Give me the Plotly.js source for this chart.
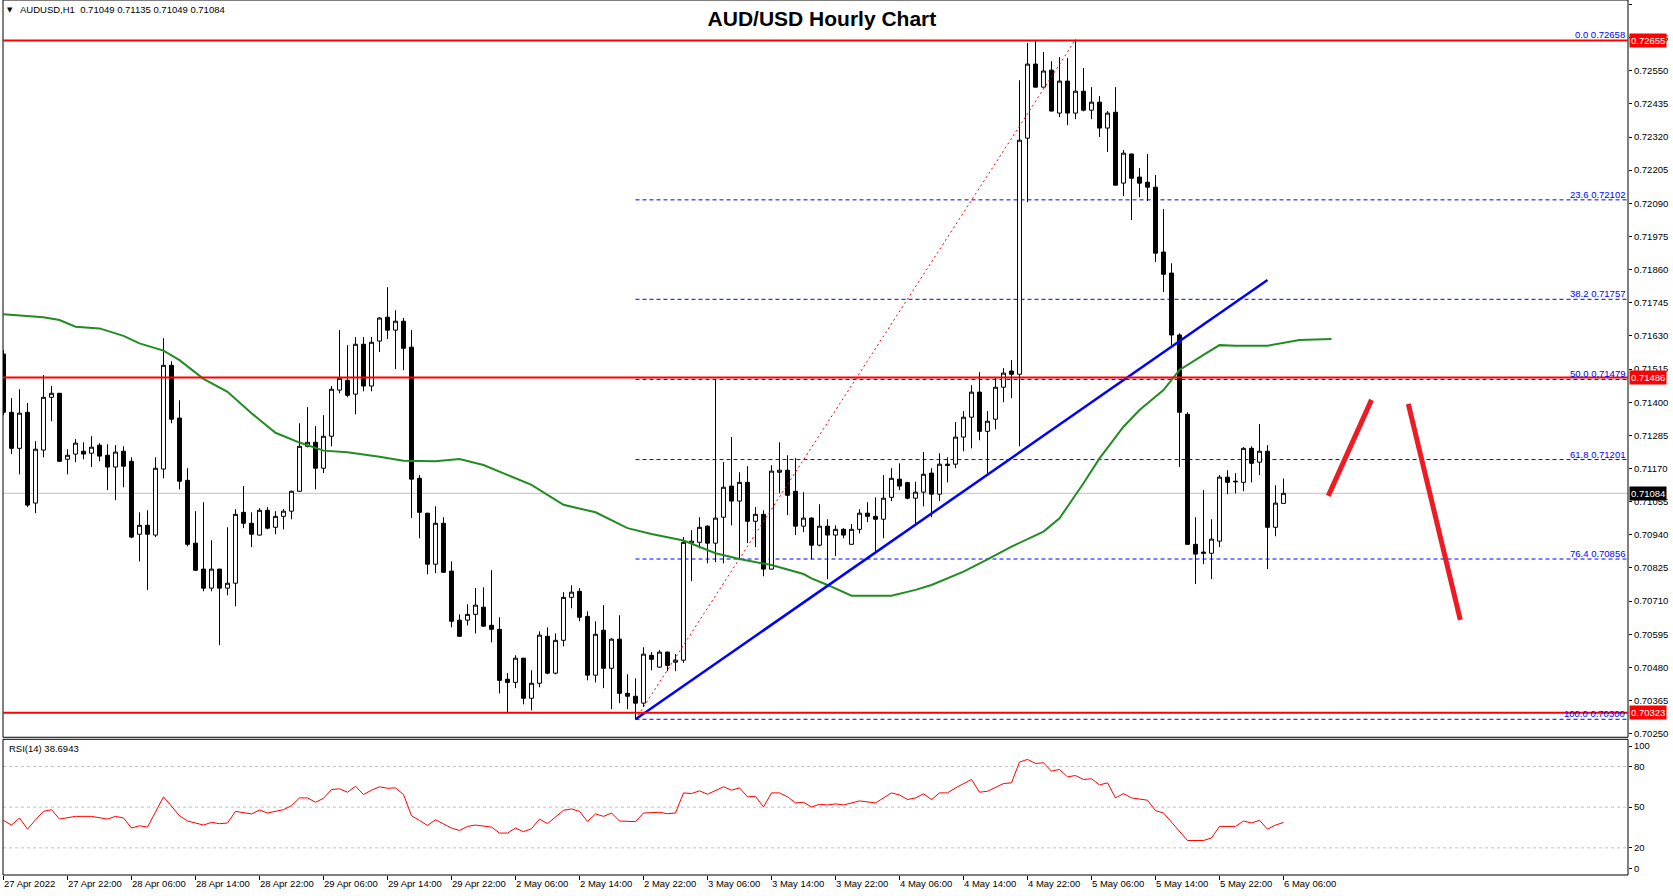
<!DOCTYPE html>
<html>
<head>
<meta charset="utf-8">
<script src="https://cdn.plot.ly/plotly-3.0.1.min.js"></script>
<style>html,body{margin:0;padding:0;background:#fff;}#chart{width:1673px;height:896px;}</style>
</head>
<body>
<div id="chart"></div>
<script>
// ---- Candles (hourly, 27 Apr 14:00 .. 6 May 06:00) ----
const opens = [0.71567,0.71365,0.71240,0.71365,0.71050,0.71234,0.71417,0.71431,0.71202,0.71220,
0.71230,0.71223,0.71251,0.71216,0.71175,0.71230,0.71195,0.70942,0.70973,0.70939,
0.71168,0.71528,0.71345,0.71129,0.70911,0.70821,0.70755,0.70821,0.70755,0.70772,
0.71018,0.70980,0.70939,0.71025,0.70966,0.71004,0.71022,0.71091,0.71247,0.71261,
0.71171,0.71282,0.71442,0.71476,0.71428,0.71601,0.71456,0.71612,0.71695,0.71650,
0.71681,0.71591,0.71136,0.71015,0.70838,0.70980,0.70814,0.70644,0.70644,0.70664,
0.70689,0.70626,0.70612,0.70439,0.70428,0.70512,0.70373,0.70425,0.70588,0.70460,
0.70574,0.70723,0.70744,0.70657,0.70453,0.70609,0.70477,0.70578,0.70390,0.70380,
0.70356,0.70522,0.70481,0.70533,0.70498,0.70505,0.70911,0.70914,0.70970,0.70911,
0.71001,0.71109,0.71057,0.71122,0.70987,0.71011,0.70821,0.71157,0.71164,0.71091,
0.70970,0.70998,0.70904,0.70970,0.70939,0.70959,0.70907,0.70959,0.71015,0.71004,
0.70994,0.71070,0.71133,0.71121,0.71067,0.71088,0.71154,0.71081,0.71185,0.71185,
0.71279,0.71348,0.71435,0.71299,0.71341,0.71452,0.71508,0.71497,0.72316,0.72573,
0.72493,0.72552,0.72403,0.72514,0.72403,0.72479,0.72413,0.72441,0.72351,0.72406,
0.72160,0.72261,0.72181,0.72163,0.72146,0.71921,0.71848,0.71633,0.71358,0.70907,
0.70880,0.70876,0.70918,0.71140,0.71126,0.71122,0.71240,0.71192,0.71230,0.70966,
0.71049];
const highs = [0.71581,0.71414,0.71445,0.71397,0.71265,0.71494,0.71456,0.71432,0.71237,0.71272,
0.71261,0.71282,0.71258,0.71254,0.71251,0.71247,0.71209,0.71018,0.71025,0.71209,
0.71622,0.71542,0.71407,0.71171,0.71022,0.71053,0.70921,0.70822,0.70966,0.71029,
0.71109,0.71018,0.71032,0.71036,0.71022,0.71029,0.71093,0.71327,0.71383,0.71317,
0.71355,0.71456,0.71650,0.71598,0.71626,0.71626,0.71626,0.71695,0.71799,0.71719,
0.71692,0.71650,0.71147,0.71016,0.71039,0.71001,0.70848,0.70664,0.70699,0.70755,
0.70758,0.70817,0.70654,0.70460,0.70522,0.70513,0.70470,0.70605,0.70619,0.70598,
0.70741,0.70765,0.70755,0.70675,0.70640,0.70696,0.70581,0.70661,0.70456,0.70442,
0.70550,0.70533,0.70540,0.70535,0.70526,0.70932,0.70956,0.71001,0.70973,0.71480,
0.71192,0.71279,0.71157,0.71178,0.71036,0.71025,0.71181,0.71261,0.71216,0.71206,
0.71088,0.71001,0.71046,0.70994,0.70973,0.70963,0.70977,0.71029,0.71053,0.71070,
0.71147,0.71171,0.71188,0.71124,0.71124,0.71227,0.71171,0.71223,0.71209,0.71331,
0.71369,0.71459,0.71504,0.71369,0.71487,0.71518,0.71546,0.72517,0.72646,0.72655,
0.72615,0.72583,0.72597,0.72594,0.72658,0.72559,0.72493,0.72462,0.72410,0.72493,
0.72275,0.72262,0.72212,0.72261,0.72188,0.72070,0.71882,0.71639,0.71365,0.71001,
0.71095,0.70994,0.71147,0.71164,0.71154,0.71244,0.71247,0.71324,0.71251,0.71112,
0.71135];
const lows = [0.71355,0.71220,0.71150,0.71036,0.71015,0.71209,0.71334,0.71193,0.71150,0.71192,
0.71202,0.71175,0.71195,0.71095,0.71060,0.71105,0.70928,0.70848,0.70748,0.70932,
0.71136,0.71327,0.71098,0.70900,0.70814,0.70744,0.70744,0.70557,0.70730,0.70692,
0.70963,0.70897,0.70938,0.70959,0.70942,0.70959,0.70994,0.71089,0.71243,0.71098,
0.71154,0.71247,0.71431,0.71417,0.71358,0.71438,0.71438,0.71574,0.71619,0.71515,
0.71511,0.70998,0.70928,0.70803,0.70807,0.70808,0.70619,0.70586,0.70626,0.70598,
0.70621,0.70567,0.70390,0.70321,0.70408,0.70352,0.70331,0.70411,0.70456,0.70456,
0.70553,0.70685,0.70640,0.70435,0.70428,0.70408,0.70335,0.70356,0.70335,0.70300,
0.70342,0.70470,0.70479,0.70467,0.70467,0.70496,0.70779,0.70893,0.70841,0.70845,
0.70841,0.70973,0.70852,0.70911,0.70897,0.70796,0.70820,0.71084,0.71008,0.70939,
0.70949,0.70855,0.70900,0.70786,0.70866,0.70928,0.70906,0.70945,0.70984,0.70883,
0.70928,0.71057,0.71095,0.71063,0.70977,0.71039,0.71001,0.71057,0.71122,0.71171,
0.71230,0.71240,0.71268,0.71154,0.71306,0.71400,0.71414,0.71247,0.72094,0.72492,
0.72492,0.72409,0.72389,0.72361,0.72382,0.72409,0.72382,0.72320,0.72268,0.72152,
0.72115,0.72032,0.72111,0.72098,0.71886,0.71782,0.71598,0.71175,0.70905,0.70769,
0.70838,0.70786,0.70897,0.71081,0.71084,0.71091,0.71122,0.71147,0.70821,0.70935,
0.71049];
const closes = [0.71365,0.71240,0.71362,0.71043,0.71237,0.71417,0.71431,0.71195,0.71216,0.71258,
0.71220,0.71244,0.71213,0.71175,0.71227,0.71178,0.70932,0.70973,0.70942,0.71171,
0.71528,0.71341,0.71126,0.70907,0.70817,0.70755,0.70821,0.70755,0.70772,0.71011,
0.70980,0.70942,0.71025,0.70963,0.71004,0.71022,0.71091,0.71247,0.71261,0.71171,
0.71282,0.71445,0.71483,0.71424,0.71601,0.71456,0.71608,0.71692,0.71650,0.71681,
0.71587,0.71133,0.71018,0.70838,0.70980,0.70810,0.70640,0.70588,0.70664,0.70696,
0.70623,0.70612,0.70435,0.70428,0.70512,0.70373,0.70425,0.70592,0.70460,0.70574,
0.70723,0.70741,0.70654,0.70453,0.70595,0.70477,0.70578,0.70390,0.70380,0.70356,
0.70526,0.70508,0.70533,0.70487,0.70505,0.70914,0.70918,0.70966,0.70911,0.70998,
0.71105,0.71057,0.71122,0.70987,0.71011,0.70821,0.71161,0.71164,0.71077,0.70970,
0.70998,0.70904,0.70970,0.70939,0.70959,0.70939,0.70959,0.71015,0.71004,0.70994,
0.71067,0.71136,0.71109,0.71067,0.71088,0.71150,0.71081,0.71185,0.71181,0.71279,
0.71348,0.71435,0.71299,0.71334,0.71452,0.71501,0.71497,0.72309,0.72573,0.72493,
0.72549,0.72410,0.72514,0.72403,0.72479,0.72413,0.72441,0.72351,0.72403,0.72153,
0.72264,0.72177,0.72160,0.72146,0.71917,0.71844,0.71633,0.71365,0.70907,0.70873,
0.70876,0.70925,0.71140,0.71122,0.71124,0.71240,0.71188,0.71230,0.70966,0.71050,
0.71084];

// ---- x-axis tick labels (every 8 bars) ----
const tickBars = [0,8,16,24,32,40,48,56,64,72,80,88,96,104,112,120,128,136,144,152,160];
const tickLabels = ["27 Apr 2022","27 Apr 22:00","28 Apr 06:00","28 Apr 14:00","28 Apr 22:00","29 Apr 06:00",
"29 Apr 14:00","29 Apr 22:00","2 May 06:00","2 May 14:00","2 May 22:00","3 May 06:00","3 May 14:00",
"3 May 22:00","4 May 06:00","4 May 14:00","4 May 22:00","5 May 06:00","5 May 14:00","5 May 22:00","6 May 06:00"];

// ---- Moving average (green) ----
const maBars = [0,3,5,7,9,12,15,17,20,22,25,28,31,34,37,40,43,47,50,54,57,60,62,66,70,74,78,81,85,89,92,96,100,101,103,106,111,114,116,120,123,126,130,132,135,137,140,142,145,147,150,152,154,158,162,166];
const maVals = [0.71705,0.71700,0.71695,0.71685,0.71662,0.71656,0.71630,0.71604,0.71579,0.71546,
0.71481,0.71436,0.71362,0.71294,0.71260,0.71232,0.71226,0.71211,0.71197,0.71195,
0.71203,0.71182,0.71159,0.71113,0.71044,0.71018,0.70963,0.70943,0.70920,0.70876,
0.70856,0.70835,0.70804,0.70789,0.70766,0.70729,0.70729,0.70749,0.70766,0.70812,
0.70855,0.70899,0.70951,0.70997,0.71119,0.71205,0.71315,0.71373,0.71442,0.71512,
0.71564,0.71598,0.71596,0.71596,0.71616,0.71619];

// ---- RSI(14) ----
const rsiBars = [0,1,2,3,4,5,6,7,9,11,13,14,15,16,17,18,20,22,23,25,26,27,28,29,31,32,33,35,36,37,38,39,40,41,42,43,44,45,46,47,48,49,50,51,52,53,54,56,57,58,59,61,62,63,64,65,66,67,68,70,71,72,73,74,75,76,77,79,80,82,83,84,85,86,87,88,90,91,92,93,94,95,96,97,98,99,100,101,102,103,104,105,107,109,111,112,113,114,115,116,117,118,119,120,121,122,123,125,126,127,128,129,130,131,132,133,134,135,136,137,138,139,140,141,143,144,145,148,150,151,152,154,155,156,157,158,159,160];
const rsiVals = [40.2,36.8,42.0,33.8,40.7,46.9,48.1,41.2,43.2,43.2,41.2,43.2,42.0,34.6,36.3,35.3,57.6,43.7,39.8,36.8,38.8,37.8,38.3,46.9,45.0,47.9,45.7,48.1,51.1,56.8,56.8,53.6,56.5,63.0,63.5,61.0,65.4,59.3,62.5,65.0,63.9,64.2,59.3,43.7,40.2,36.5,40.7,34.6,32.8,35.8,36.8,35.3,30.9,30.9,34.6,31.9,34.1,41.2,37.8,47.7,48.7,46.9,39.5,45.0,43.2,45.7,39.8,39.3,45.7,46.2,45.2,45.7,60.5,60.0,62.0,59.5,65.0,62.5,64.2,57.6,58.0,50.1,60.5,60.5,57.6,53.1,53.6,50.1,52.1,51.6,52.4,51.6,54.6,53.1,60.5,59.0,55.6,56.8,59.8,55.6,60.5,60.5,64.2,67.2,70.4,61.0,61.7,67.4,67.9,83.2,85.2,82.2,82.7,76.5,77.8,72.3,73.3,70.4,70.9,66.4,67.9,56.8,60.0,56.8,55.1,47.4,45.7,25.4,25.4,27.3,35.8,35.8,39.8,38.3,40.3,33.8,36.8,38.7];
const rsiTicks = [95,80,50,20,4.7];
const rsiTickText = ["100","80","50","20","0"];
const rsiLevels = [80,50,20];

// ---- Drawn objects ----
const redLevels = [0.72655,0.71486,0.70323];
const currentPrice = 0.71084;
const fibPct = [0.0,23.6,38.2,50.0,61.8,76.4,100.0];
const fibPrices = [0.72658,0.72102,0.71757,0.71479,0.71201,0.70856,0.70300];
const fibStartBar = 79;
const fibDiagX = [79,134], fibDiagY = [0.70300,0.72658];
const trendX = [79,158], trendY = [0.70300,0.71824];
const arrowUpX = [165.6,171.0], arrowUpY = [0.71075,0.71408];
const arrowDownX = [175.6,182.1], arrowDownY = [0.71394,0.70645];

const bars = opens.map((_, i) => i);
const XMIN = -0.0625, XMAX = 203.0625;
const FONT = 'Liberation Sans, Arial, sans-serif';

const traces = [
  {type:'candlestick', x:bars, open:opens, high:highs, low:lows, close:closes, xaxis:'x', yaxis:'y',
   increasing:{line:{color:'#000000',width:1}, fillcolor:'#ffffff'},
   decreasing:{line:{color:'#000000',width:1}, fillcolor:'#000000'},
   whiskerwidth:0, hoverinfo:'skip'},
  {type:'scatter', mode:'lines', x:maBars, y:maVals, xaxis:'x', yaxis:'y', line:{color:'#228b22', width:2}, hoverinfo:'skip'},
  {type:'scatter', mode:'lines', x:fibDiagX, y:fibDiagY, xaxis:'x', yaxis:'y', line:{color:'#ff0000', width:1, dash:'2px,3px'}, hoverinfo:'skip'},
  {type:'scatter', mode:'lines', x:trendX, y:trendY, xaxis:'x', yaxis:'y', line:{color:'#0000ff', width:2.5}, hoverinfo:'skip'},
  {type:'scatter', mode:'lines', x:arrowUpX, y:arrowUpY, xaxis:'x', yaxis:'y', line:{color:'#ed1c24', width:5}, hoverinfo:'skip'},
  {type:'scatter', mode:'lines', x:arrowDownX, y:arrowDownY, xaxis:'x', yaxis:'y', line:{color:'#ed1c24', width:5}, hoverinfo:'skip'},
  {type:'scatter', mode:'lines', x:rsiBars, y:rsiVals, xaxis:'x', yaxis:'y2', line:{color:'#ff0000', width:1}, hoverinfo:'skip'}
];

const MAIN_DOM = [0.1574, 1];
const RSI_DOM = [0, 0.1551];

const shapes = [];
// frames
shapes.push({type:'rect', xref:'paper', yref:'paper', x0:0, x1:1, y0:MAIN_DOM[0], y1:MAIN_DOM[1], line:{color:'#000', width:1}, layer:'above'});
shapes.push({type:'rect', xref:'paper', yref:'paper', x0:0, x1:1, y0:RSI_DOM[0], y1:RSI_DOM[1], line:{color:'#000', width:1}, layer:'above'});
// current price line
shapes.push({type:'line', xref:'paper', yref:'y', x0:0, x1:1, y0:currentPrice, y1:currentPrice, line:{color:'#c0c0c0', width:1}, layer:'below'});
// fib levels (0.0 level lies under the red resistance line)
fibPrices.forEach((p, k) => { if (k > 0) shapes.push({type:'line', xref:'x', yref:'y', x0:fibStartBar, x1:XMAX, y0:p, y1:p, line:{color:'#0000ff', width:1, dash:'4px,3px'}, layer:'below'}); });
// red horizontal levels
redLevels.forEach(p => shapes.push({type:'line', xref:'paper', yref:'y', x0:0, x1:1, y0:p, y1:p, line:{color:'#ff0000', width:2}, layer:'above'}));
// RSI levels
rsiLevels.forEach(v => shapes.push({type:'line', xref:'paper', yref:'y2', x0:0, x1:1, y0:v, y1:v, line:{color:'#c0c0c0', width:1, dash:'3px,3px'}, layer:'below'}));

const annotations = [];
annotations.push({xref:'paper', yref:'paper', x:0.0012, y:0.9886, xanchor:'left', yanchor:'middle', text:'▼', showarrow:false, font:{family:'DejaVu Sans', size:7, color:'#000'}});
annotations.push({xref:'paper', yref:'paper', x:0.0090, y:0.9886, xanchor:'left', yanchor:'middle', text:'AUDUSD,H1&nbsp;&nbsp;0.71049 0.71135 0.71049 0.71084', showarrow:false, font:{family:FONT, size:9.5, color:'#000'}});
annotations.push({xref:'paper', yref:'paper', x:0.0025, y:0.1443, xanchor:'left', yanchor:'middle', text:'RSI(14) 38.6943', showarrow:false, font:{family:FONT, size:9.5, color:'#000'}});
fibPrices.forEach((p, k) => annotations.push({xref:'paper', yref:'y', x:1, y:p, xanchor:'right', yanchor:'bottom', xshift:-1, yshift:-2,
  text:fibPct[k].toFixed(1)+' '+p.toFixed(5), showarrow:false, font:{family:FONT, size:9.5, color:'#0000ff'}}));
redLevels.forEach(p => annotations.push({xref:'paper', yref:'y', x:1, y:p, xanchor:'left', yanchor:'middle', xshift:1,
  text:p.toFixed(5), showarrow:false, bgcolor:'#ff0000', borderpad:1, font:{family:FONT, size:9.5, color:'#ffffff'}}));
annotations.push({xref:'paper', yref:'y', x:1, y:currentPrice, xanchor:'left', yanchor:'middle', xshift:1,
  text:currentPrice.toFixed(5), showarrow:false, bgcolor:'#000000', borderpad:1, font:{family:FONT, size:9.5, color:'#ffffff'}});

const layout = {
  width:1673, height:896,
  margin:{l:3, r:45, t:0, b:21, pad:0},
  paper_bgcolor:'#ffffff', plot_bgcolor:'#ffffff',
  showlegend:false, hovermode:false,
  font:{family:FONT, size:9.5, color:'#000'},
  title:{text:'<b>AUD/USD Hourly Chart</b>', xref:'container', x:0.4913, xanchor:'center', yref:'container', y:0.9788, yanchor:'middle',
         font:{family:FONT, size:21, color:'#000'}},
  xaxis:{range:[XMIN, XMAX], anchor:'y2', tickvals:tickBars, ticktext:tickLabels, ticks:'outside', ticklen:4, tickcolor:'#000',
         ticklabelposition:'outside right', showgrid:false, zeroline:false, showline:false, rangeslider:{visible:false},
         tickfont:{family:FONT, size:9.5, color:'#000'}, fixedrange:true},
  yaxis:{domain:MAIN_DOM, range:[0.702376, 0.727953], side:'right', anchor:'x', tick0:0.70250, dtick:0.00115, tickformat:'.5f',
         ticks:'outside', ticklen:3, tickcolor:'#000', showgrid:false, zeroline:false, showline:false,
         tickfont:{family:FONT, size:9.5, color:'#000'}, fixedrange:true},
  yaxis2:{domain:RSI_DOM, range:[0, 100], side:'right', anchor:'x', tickvals:rsiTicks, ticktext:rsiTickText,
          ticks:'outside', ticklen:3, tickcolor:'#000', showgrid:false, zeroline:false, showline:false,
          tickfont:{family:FONT, size:9.5, color:'#000'}, fixedrange:true},
  shapes:shapes,
  annotations:annotations
};

Plotly.newPlot('chart', traces, layout, {staticPlot:true, displayModeBar:false});
</script>
</body>
</html>
